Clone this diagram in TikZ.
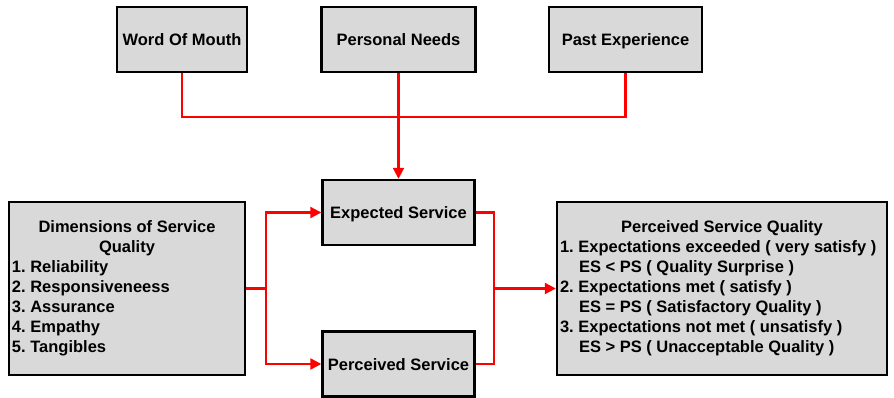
\documentclass[tikz,border=0pt]{standalone}
\usepackage{fontspec}
\setmainfont{Liberation Sans}
\usetikzlibrary{arrows.meta}
\definecolor{boxgray}{HTML}{D9D9D9}
\definecolor{linkred}{HTML}{FF0000}
\frenchspacing
\begin{document}
\begin{tikzpicture}[x=1pt,y=-1pt,
  every node/.style={font=\fontsize{16.5}{20}\selectfont\bfseries},
  box/.style={draw=black, line width=2.4pt, fill=boxgray, inner sep=0pt, anchor=center},
  onebox/.style={box, minimum height=65pt, text height=14pt, text depth=1.6pt},
  link/.style={draw=linkred, line width=2.2pt},
  tolink/.style={link, -{Triangle[length=11pt,width=11pt]}}]
\useasboundingbox (0,0) rectangle (894,398);

% input boxes
\node[onebox, minimum width=130pt] (wom) at (182,39.5) {Word Of Mouth};
\node[onebox, minimum width=154pt] (pn)  at (398.5,39.5) {Personal Needs};
\node[onebox, minimum width=153pt] (pex) at (625.5,39.5) {Past Experience};

% service boxes
\node[onebox, minimum width=152pt] (es) at (398.5,212.5) {Expected Service};
\node[onebox, minimum width=152pt] (ps) at (398.5,364) {Perceived Service};

% dimensions of service quality
\node[box, minimum width=236pt, minimum height=173pt] (dim) at (127,288.5) {%
  \begin{tabular}{@{}p{230pt}@{}}
  \multicolumn{1}{@{}c@{}}{Dimensions of Service}\\
  \multicolumn{1}{@{}c@{}}{Quality}\\
  1. Reliability\\
  2. Responsiveneess\\
  3. Assurance\\
  4. Empathy\\
  5. Tangibles
  \end{tabular}};

% perceived service quality
\node[box, minimum width=330pt, minimum height=173pt] (psq) at (722,288.5) {%
  \begin{tabular}{@{}p{324pt}@{}}
  \multicolumn{1}{@{}c@{}}{Perceived Service Quality}\\
  1. Expectations exceeded ( very satisfy )\\
  \hspace*{19pt}ES < PS ( Quality Surprise )\\
  2. Expectations met ( satisfy )\\
  \hspace*{19pt}ES = PS ( Satisfactory Quality )\\
  3. Expectations not met ( unsatisfy )\\
  \hspace*{19pt}ES > PS ( Unacceptable Quality )
  \end{tabular}};

% junction points
\coordinate (top) at (398.5,117);
\coordinate (lx) at (266,288.5);
\coordinate (rx) at (494,288.5);

% top inputs into expected service
\draw[link] (wom.south) |- (top) -| (pex.south);
\draw[tolink] (pn.south) -- (es.north);

% dimensions feed both services
\draw[link] (dim.east) -- (lx);
\draw[tolink] (lx) |- (es.west);
\draw[tolink] (lx) |- (ps.west);

% services combine into perceived quality
\draw[link] (es.east) -| (rx);
\draw[link] (ps.east) -| (rx);
\draw[tolink] (rx) -- (psq.west);
\end{tikzpicture}
\end{document}
